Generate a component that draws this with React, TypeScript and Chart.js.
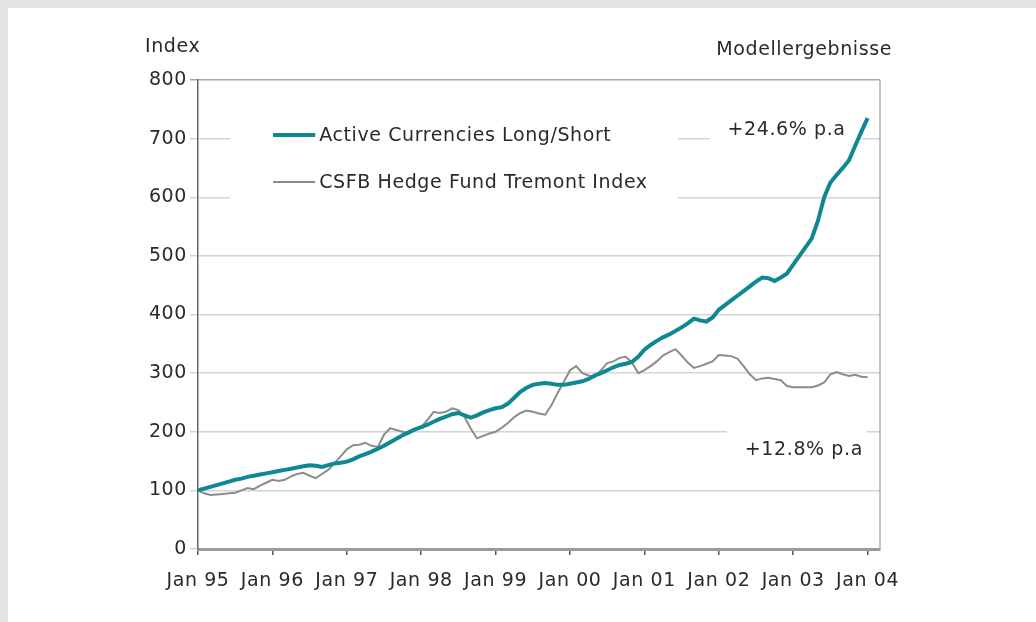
import React, { useEffect, useRef } from "react";
import { Chart, registerables } from "chart.js";

Chart.register(...registerables);

// Monthly index values, Jan 95 (index 0) .. Jan 04 (index 108)
const activeCurrencies: number[] = [
  100, 103, 106, 109, 112, 115, 118, 120, 123, 125, 127, 129,
  131, 133, 135, 137, 139, 141, 143, 142, 140, 143, 146, 147,
  149, 153, 158, 162, 166, 171, 176, 182, 188, 194, 199, 204,
  208, 212, 217, 222, 226, 230, 232, 228, 224, 228, 233, 237,
  240, 242, 248, 258, 268, 275, 280, 282, 283, 282, 280, 280,
  282, 284, 286, 290, 296, 300, 305, 310, 314, 316, 319, 328,
  340, 348, 355, 361, 366, 372, 378, 385, 393, 390, 388, 395,
  408, 416, 424, 432, 440, 448, 456, 463, 462, 457, 463, 470,
  485, 500, 515, 530, 560, 600, 625, 638, 650, 663, 688, 712,
  735,
];

const csfbTremont: number[] = [
  100, 95, 92, 93, 94, 95, 96, 100, 104, 102, 108, 113,
  118, 116, 118, 124, 128, 130, 125, 121, 128, 135, 146, 158,
  170, 177, 178, 181, 176, 174, 195, 206, 203, 200, 197, 204,
  208, 220, 234, 232, 234, 240, 237, 225, 205, 189, 193, 197,
  200, 207, 215, 225, 232, 236, 234, 231, 229, 245, 266, 285,
  305, 312, 300, 296, 293, 305, 317, 320, 326, 328, 318, 300,
  305, 312, 320, 330, 336, 341, 330, 318, 309, 312, 316, 320,
  331, 330, 329, 325, 312, 298, 288, 291, 292, 290, 288, 278,
  276, 276, 276, 276, 279, 284, 298, 302, 298, 295, 297, 294,
  293,
];

const xTickValues: number[] = [0, 12, 24, 36, 48, 60, 72, 84, 96, 108];
const xTickLabels: string[] = [
  "Jan 95", "Jan 96", "Jan 97", "Jan 98", "Jan 99",
  "Jan 00", "Jan 01", "Jan 02", "Jan 03", "Jan 04",
];
const seriesNames: string[] = [
  "Active Currencies Long/Short",
  "CSFB Hedge Fund Tremont Index",
];
const annotationTexts: string[] = ["+24.6% p.a", "+12.8% p.a"];

const TEAL = "#0f8893";
const GREY = "#8c8c8c";
const TEXT = "#2a2a2a";
const FAMILY = "'DejaVu Sans', Verdana, sans-serif";
const FONT = "19px " + FAMILY;
const SPACING = "0.6px";

const overlayPlugin = {
  id: "overlay",
  beforeDraw(chart: any) {
    (chart.ctx as any).letterSpacing = SPACING;
  },
  beforeDatasetsDraw(chart: any) {
    const { ctx, scales } = chart;
    const x = scales.x;
    const y = scales.y;
    ctx.save();
    ctx.fillStyle = "#ffffff";
    const box = (x0: number, x1: number, y0: number, y1: number) => {
      const px0 = x.getPixelForValue(x0);
      const px1 = x.getPixelForValue(x1);
      const py0 = y.getPixelForValue(y1);
      const py1 = y.getPixelForValue(y0);
      ctx.fillRect(px0, py0, px1 - px0, py1 - py0);
    };
    box(5.2, 77.4, 570, 757); // legend
    box(82.5, 107, 681, 745); // +24.6%
    box(85.3, 107.8, 135, 211); // +12.8%
    ctx.restore();
  },
  afterDatasetsDraw(chart: any) {
    const { ctx, scales, chartArea } = chart;
    const x = scales.x;
    const y = scales.y;
    ctx.save();
    (ctx as any).letterSpacing = SPACING;
    // frame: right border
    ctx.strokeStyle = "#b0b0b0";
    ctx.lineWidth = 1.5;
    ctx.beginPath();
    ctx.moveTo(chartArea.right, chartArea.top);
    ctx.lineTo(chartArea.right, chartArea.bottom);
    ctx.stroke();

    ctx.font = FONT;
    ctx.fillStyle = TEXT;
    ctx.textBaseline = "middle";

    // legend
    const lx0 = x.getPixelForValue(12.1);
    const lx1 = x.getPixelForValue(18.9);
    const rows = [
      { v: 706, color: TEAL, w: 4 },
      { v: 626, color: GREY, w: 2 },
    ];
    rows.forEach((r, i) => {
      const py = y.getPixelForValue(r.v);
      ctx.strokeStyle = r.color;
      ctx.lineWidth = r.w;
      ctx.beginPath();
      ctx.moveTo(lx0, py);
      ctx.lineTo(lx1, py);
      ctx.stroke();
      ctx.textAlign = "left";
      ctx.fillText(seriesNames[i], lx1 + 4, py + 1);
    });

    // annotations
    ctx.textAlign = "left";
    ctx.fillText(annotationTexts[0], x.getPixelForValue(85.4), y.getPixelForValue(715));
    ctx.fillText(annotationTexts[1], x.getPixelForValue(88.2), y.getPixelForValue(169));

    // axis titles
    ctx.fillText("Index", chartArea.left - 53, chartArea.top - 33);
    ctx.textAlign = "right";
    ctx.fillText("Modellergebnisse", chartArea.right + 12, chartArea.top - 30);
    ctx.restore();
  },
};

export default function App() {
  const canvasRef = useRef<HTMLCanvasElement | null>(null);

  useEffect(() => {
    document.documentElement.style.overflow = "hidden";
    document.body.style.margin = "8px 0 0 8px";
    document.body.style.background = "#e4e4e4";
    document.body.style.overflow = "hidden";

    const canvas = canvasRef.current;
    if (!canvas) return;

    const chart = new Chart(canvas, {
      type: "line",
      data: {
        datasets: [
          {
            label: seriesNames[1],
            data: csfbTremont.map((v, i) => ({ x: i, y: v })),
            borderColor: GREY,
            borderWidth: 2,
            pointRadius: 0,
            tension: 0,
            fill: false,
            order: 2,
          },
          {
            label: seriesNames[0],
            data: activeCurrencies.map((v, i) => ({ x: i, y: v })),
            borderColor: TEAL,
            borderWidth: 4,
            pointRadius: 0,
            tension: 0,
            fill: false,
            order: 1,
          },
        ],
      },
      options: {
        responsive: false,
        animation: false,
        devicePixelRatio: 1,
        layout: { padding: { left: 0, top: 72, right: 156, bottom: 0 } },
        plugins: {
          legend: { display: false },
          tooltip: { enabled: false },
          title: { display: false },
        },
        scales: {
          x: {
            type: "linear",
            min: 0,
            max: 110,
            afterBuildTicks: (scale: any) => {
              scale.ticks = xTickValues.map((v) => ({ value: v }));
            },
            afterFit: (scale: any) => {
              scale.height = 73;
            },
            border: { display: true, color: "#9a9a9a", width: 3 },
            grid: {
              drawOnChartArea: false,
              drawTicks: true,
              tickLength: 6,
              color: "#555555",
              lineWidth: 1.5,
            },
            ticks: {
              autoSkip: false,
              maxRotation: 0,
              minRotation: 0,
              padding: 15,
              color: TEXT,
              font: { family: FAMILY, size: 19 },
              callback: (_v: any, i: number) => xTickLabels[i],
            },
          },
          y: {
            min: 0,
            max: 800,
            afterFit: (scale: any) => {
              scale.width = 190;
            },
            border: { display: true, color: "#666666", width: 1.5 },
            grid: {
              color: (c: any) => (c.tick && c.tick.value === 800 ? "#a8a8a8" : "#d4d4d4"),
              lineWidth: 1.5,
              drawTicks: true,
              tickLength: 8,
            },
            ticks: {
              stepSize: 100,
              padding: 3,
              color: TEXT,
              font: { family: FAMILY, size: 19 },
            },
          },
        },
      },
      plugins: [overlayPlugin],
    });

    return () => chart.destroy();
  }, []);

  return (
    <div style={{ width: 1028, height: 614, background: "#ffffff" }}>
      <canvas ref={canvasRef} width={1028} height={614} style={{ display: "block", width: 1028, height: 614 }} />
    </div>
  );
}
